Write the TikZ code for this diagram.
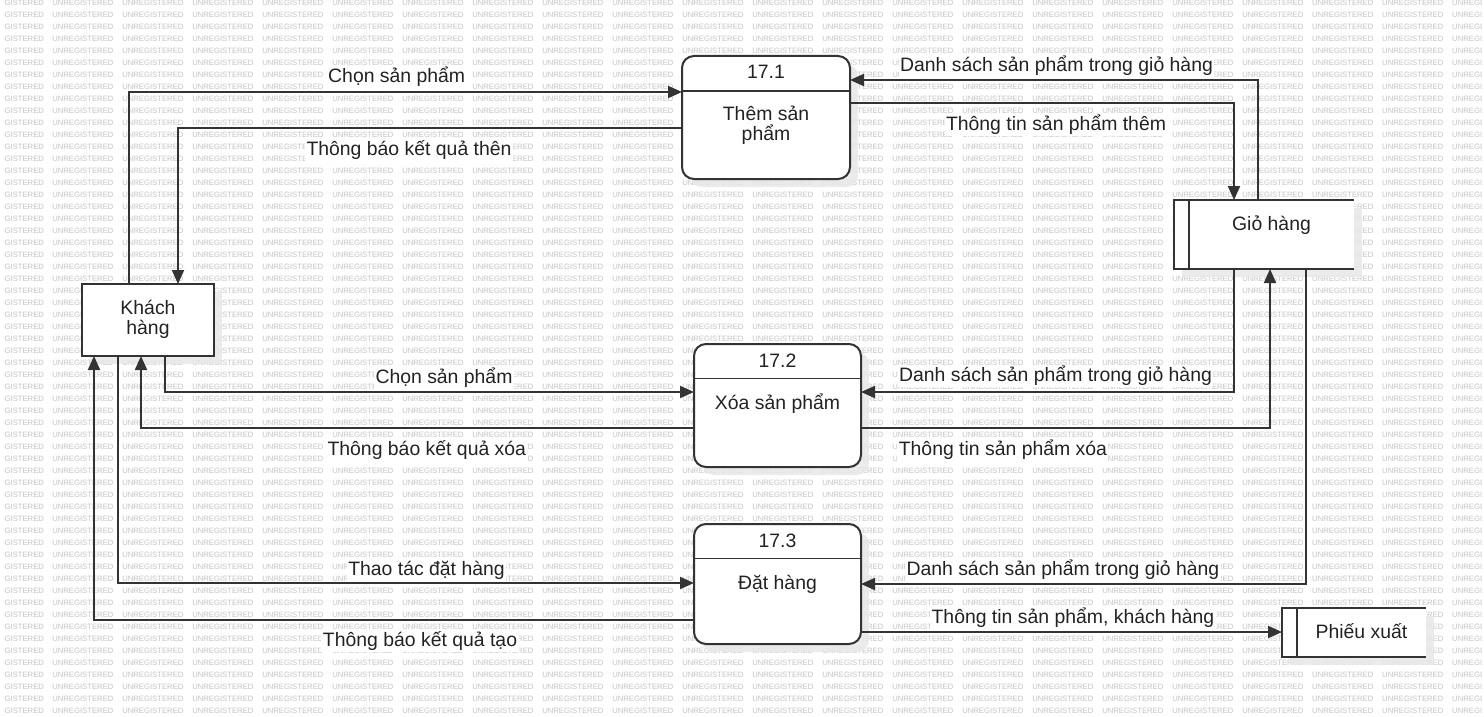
\documentclass[tikz,border=0pt]{standalone}
\usepackage{fontspec}
\setmainfont{Liberation Sans}
\usetikzlibrary{arrows.meta,shadows}
\definecolor{ink}{HTML}{222222}
\definecolor{edge}{HTML}{333333}
\definecolor{wmgray}{HTML}{C4C4C4}

% one row of the background stamp
\newcommand\wmword{\makebox[70pt][l]{UNREGISTERED}}
\newcommand\wmfour{\wmword\wmword\wmword\wmword}
\newcommand\wmrow{\makebox[52.3pt][l]{\makebox[44pt][r]{GISTERED}}%
  \wmfour\wmfour\wmfour\wmfour\wmfour UNREGI}

\begin{document}
\begin{tikzpicture}[x=1pt,y=-1pt,
  every node/.style={outer sep=0pt,text=ink},
  txt/.style={font=\fontsize{19.4}{19.7}\selectfont,inner sep=0pt,anchor=base,align=center},
  lbl/.style={txt,fill=white,inner sep=1.5pt},
  shade/.style={drop shadow={shadow xshift=8pt,shadow yshift=-8pt,fill=black!9,opacity=0.85}},
  ext/.style={draw=edge,line width=2pt,fill=white,minimum width=132pt,minimum height=72pt,inner sep=0pt,shade},
  proc/.style={draw=edge,line width=2pt,fill=white,rounded corners=12pt,minimum width=167pt,inner sep=0pt,shade},
  store/.style={fill=white,inner sep=0pt,shade},
  border/.style={draw=edge,line width=2pt},
  divider/.style={draw=edge,line width=1.6pt},
  flow/.style={draw=edge,line width=2pt,-{Triangle[length=14pt,width=12pt]}},
  wm/.style={font=\fontsize{7.7}{8}\selectfont,text=wmgray,inner sep=0pt,anchor=west}]

\useasboundingbox (0,0) rectangle (1484,717);
\fill[white] (0,0) rectangle (1484,717);

% background stamp
\foreach \k in {0,...,59}
  \node[wm] (wm\k) at (0,3+12*\k) {\wmrow};

% external entity
\node[ext] (kh) at (148,320) {};
\node[txt] (khtxt) at (148,334) {Khách\\hàng};

% processes
\node[proc,minimum width=168pt,minimum height=123pt] (p1) at (766,117.5) {};
\draw[divider] (p1.west |- 0,91) -- (p1.east |- 0,91);
\node[txt] (p1num) at (766,78.3) {17.1};
\node[txt] (p1txt) at (766,140.2) {Thêm sản\\phẩm};

\node[proc,minimum height=123pt] (p2) at (777.5,405.5) {};
\draw[divider] (p2.west |- 0,378.5) -- (p2.east |- 0,378.5);
\node[txt] (p2num) at (777.5,367.3) {17.2};
\node[txt] (p2txt) at (777.5,409.3) {Xóa sản phẩm};

\node[proc,minimum height=120pt] (p3) at (777.5,584) {};
\draw[divider] (p3.west |- 0,558.5) -- (p3.east |- 0,558.5);
\node[txt] (p3num) at (777.5,547.3) {17.3};
\node[txt] (p3txt) at (777.5,589.3) {Đặt hàng};

% data stores
\node[store,minimum width=180pt,minimum height=69pt] (gio) at (1264,234.5) {};
\draw[border] (gio.north east) -- (gio.north west) -- (gio.south west) -- (gio.south east);
\draw[border] ([xshift=15pt]gio.north west) -- ([xshift=15pt]gio.south west);
\node[txt] (giotxt) at (1271.5,230.7) {Giỏ hàng};

\node[store,minimum width=144pt,minimum height=49pt] (phieu) at (1354,632.5) {};
\draw[border] (phieu.north east) -- (phieu.north west) -- (phieu.south west) -- (phieu.south east);
\draw[border] ([xshift=15pt]phieu.north west) -- ([xshift=15pt]phieu.south west);
\node[txt] (phieutxt) at (1361.5,638.7) {Phiếu xuất};

% data flows
\draw[flow] (kh.north -| 129,0) |- (p1.west |- 0,92);
\draw[flow] (p1.west |- 0,128) -| (kh.north -| 178,0);
\draw[flow] (gio.north -| 1258,0) |- (p1.east |- 0,80);
\draw[flow] (p1.east |- 0,103) -| (gio.north -| 1234,0);

\draw[flow] (kh.south -| 165,0) |- (p2.west |- 0,392);
\draw[flow] (p2.west |- 0,428) -| (kh.south -| 141,0);
\draw[flow] (gio.south -| 1234,0) |- (p2.east |- 0,392);
\draw[flow] (p2.east |- 0,428) -| (gio.south -| 1270,0);

\draw[flow] (kh.south -| 118,0) |- (p3.west |- 0,583);
\draw[flow] (p3.west |- 0,620) -| (kh.south -| 94,0);
\draw[flow] (gio.south -| 1306,0) |- (p3.east |- 0,584);
\draw[flow] (p3.east |- 0,632) -- (phieu.west |- 0,632);

% flow labels
\node[lbl] (l1) at (396.7,83) {Chọn sản phẩm};
\node[lbl] (l2) at (409,155) {Thông báo kết quả thên};
\node[lbl] (l3) at (1056.5,71) {Danh sách sản phẩm trong giỏ hàng};
\node[lbl] (l4) at (1056,130) {Thông tin sản phẩm thêm};
\node[lbl] (l5) at (444,383.3) {Chọn sản phẩm};
\node[lbl] (l6) at (426.8,455) {Thông báo kết quả xóa};
\node[lbl] (l7) at (1055.5,381.7) {Danh sách sản phẩm trong giỏ hàng};
\node[lbl] (l8) at (1002.9,455.7) {Thông tin sản phẩm xóa};
\node[lbl] (l9) at (426.5,575.7) {Thao tác đặt hàng};
\node[lbl] (l10) at (420,646) {Thông báo kết quả tạo};
\node[lbl] (l11) at (1062.9,575) {Danh sách sản phẩm trong giỏ hàng};
\node[lbl] (l12) at (1072.9,623.3) {Thông tin sản phẩm, khách hàng};
\end{tikzpicture}
\end{document}
